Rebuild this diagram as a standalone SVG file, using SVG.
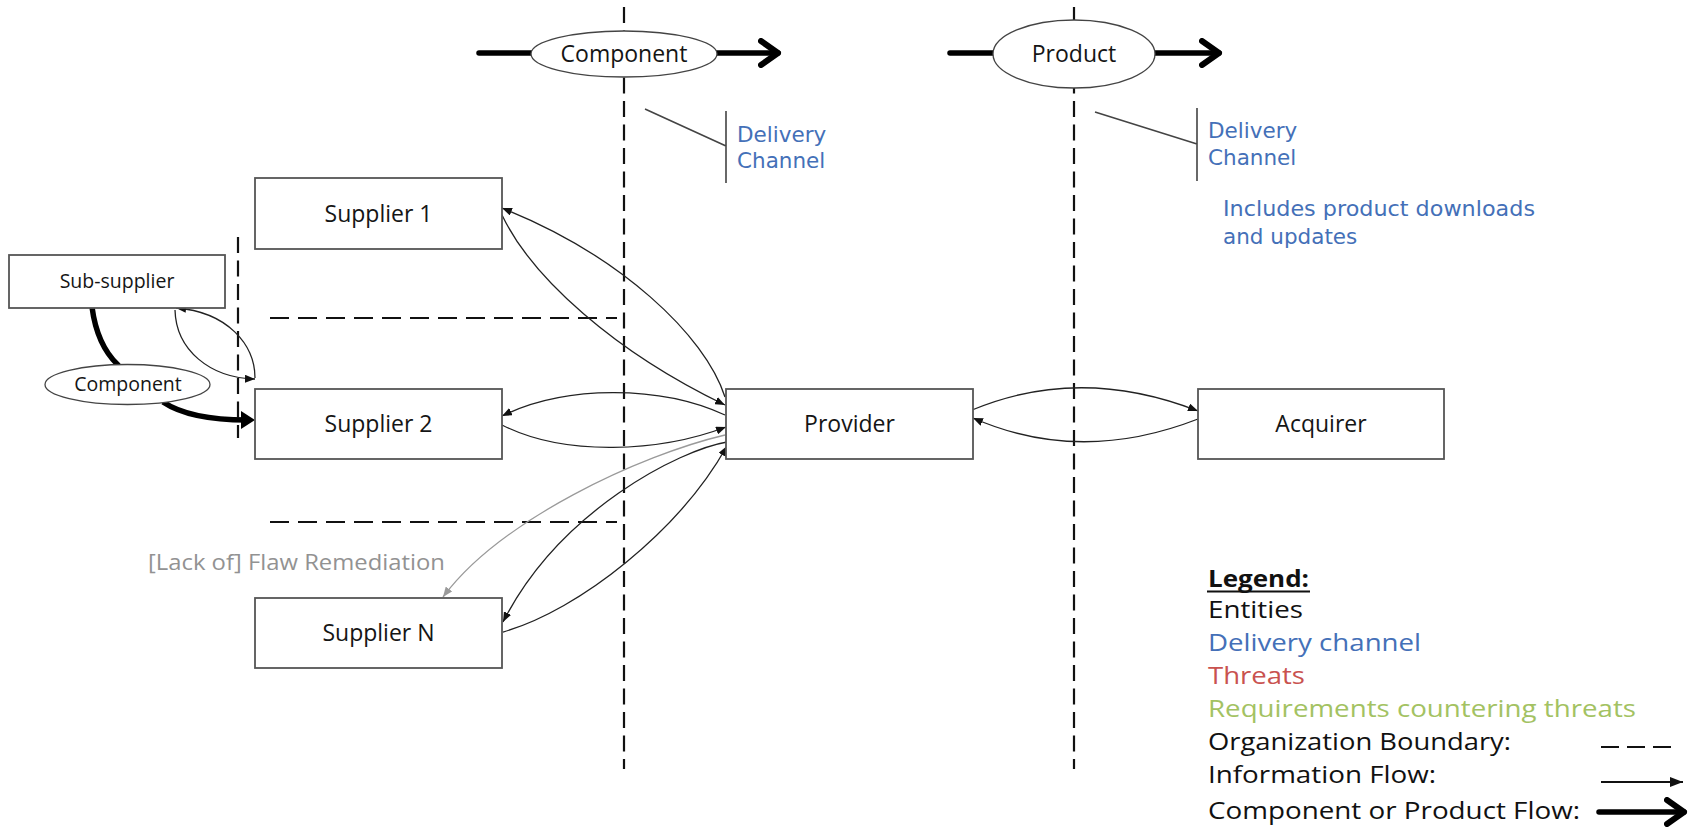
<svg xmlns="http://www.w3.org/2000/svg" width="1696" height="828" viewBox="0 0 1696 828">
<style>
  text { font-family: "Open Sans", "Liberation Sans", sans-serif; }
  .box { fill: #fff; stroke: #555; stroke-width: 1.8; }
  .ell { fill: #fff; stroke: #444; stroke-width: 1.3; }
  .lbl { font-size: 23px; fill: #151515; text-anchor: middle; }
  .lbls { font-size: 19.5px; fill: #151515; text-anchor: middle; }
  .dc { font-family: "DejaVu Sans", "Open Sans", sans-serif; font-size: 21.5px; fill: #4470b8; }
  .vdash { stroke: #111; stroke-width: 2.2; stroke-dasharray: 16 7.5; fill: none; }
  .hdash { stroke: #111; stroke-width: 2.2; stroke-dasharray: 19 9; fill: none; }
  .info { fill: none; stroke: #222; stroke-width: 1.3; }
  .gray { fill: none; stroke: #9a9a9a; stroke-width: 1.3; }
  .thick { fill: none; stroke: #000; stroke-width: 5.5; stroke-linecap: round; }
  .brk { fill: none; stroke: #444; stroke-width: 1.6; }
  .leg { font-size: 24px; fill: #111; }
</style>
<defs>
  <marker id="ah" viewBox="0 0 10 8" refX="10" refY="4" markerWidth="10" markerHeight="8" markerUnits="userSpaceOnUse" orient="auto">
    <path d="M0,0 L10,4 L0,8 z" fill="#111"/>
  </marker>
  <marker id="ahg" viewBox="0 0 10 8" refX="10" refY="4" markerWidth="10" markerHeight="8" markerUnits="userSpaceOnUse" orient="auto">
    <path d="M0,0 L10,4 L0,8 z" fill="#9a9a9a"/>
  </marker>
  <marker id="ahl" viewBox="0 0 13 10" refX="13" refY="5" markerWidth="13" markerHeight="10" markerUnits="userSpaceOnUse" orient="auto">
    <path d="M0,0 L13,5 L0,10 z" fill="#111"/>
  </marker>
  <marker id="aht" viewBox="0 0 14 18" refX="6" refY="9" markerWidth="14" markerHeight="18" markerUnits="userSpaceOnUse" orient="auto">
    <path d="M0,0 L14,9 L0,18 z" fill="#000"/>
  </marker>
  <marker id="chev" viewBox="0 0 24 30" refX="20" refY="15" markerWidth="24" markerHeight="30" markerUnits="userSpaceOnUse" orient="auto">
    <path d="M3,3 L20,15 L3,27" fill="none" stroke="#000" stroke-width="6" stroke-linecap="round" stroke-linejoin="round"/>
  </marker>
</defs>

<rect width="1696" height="828" fill="#fff"/>

<!-- boundaries and delivery channel brackets -->
<g id="boundaries">
  <line class="vdash" x1="624" y1="7" x2="624" y2="769"/>
  <line class="vdash" x1="1074" y1="7" x2="1074" y2="769"/>
  <line class="vdash" x1="238" y1="237" x2="238" y2="438"/>
  <line class="hdash" x1="270" y1="318" x2="617" y2="318"/>
  <line class="hdash" x1="270" y1="522" x2="617" y2="522"/>
</g>

<g id="delivery-channel-1">
  <path class="brk" d="M645,109 L726,146 M726,111 L726,183"/>
  <text class="dc" x="737" y="142">Delivery</text>
  <text class="dc" x="737" y="168">Channel</text>
</g>
<g id="delivery-channel-2">
  <path class="brk" d="M1095,112 L1197,144 M1197,108 L1197,181"/>
  <text class="dc" x="1208" y="138">Delivery</text>
  <text class="dc" x="1208" y="165">Channel</text>
  <text class="dc" x="1223" y="216" textLength="312" lengthAdjust="spacingAndGlyphs">Includes product downloads</text>
  <text class="dc" x="1223" y="244">and updates</text>
</g>

<!-- connectors -->
<g id="connectors">
  <line class="thick" x1="479" y1="53" x2="778" y2="53" marker-end="url(#chev)"/>
  <line class="thick" x1="950" y1="53" x2="1219" y2="53" marker-end="url(#chev)"/>
  <path class="thick" d="M92,307 Q97,345 118,365"/>
  <path class="thick" style="stroke-linecap:butt" d="M163,402 Q190,420 247,420" marker-end="url(#aht)"/>
  <path class="info" d="M255,378 C255,345 228,312 176,308" marker-end="url(#ah)"/>
  <path class="info" d="M175,310 C176,350 210,378 255,379" marker-end="url(#ah)"/>
  <path class="info" d="M725,397 C705,335 620,255 502,208" marker-end="url(#ah)"/>
  <path class="info" d="M502,215 C532,278 615,352 725,405" marker-end="url(#ah)"/>
  <path class="info" d="M725,415 C660,385 565,385 502,416" marker-end="url(#ah)"/>
  <path class="info" d="M502,425 C565,457 660,452 726,427" marker-end="url(#ah)"/>
  <path class="gray" d="M725,435 C640,455 500,520 443,597" marker-end="url(#ahg)"/>
  <path class="info" d="M727,442 C680,450 560,510 503,622" marker-end="url(#ah)"/>
  <path class="info" d="M503,632 C580,610 680,530 727,446" marker-end="url(#ah)"/>
  <path class="info" d="M972,410 Q1080,365 1198,411" marker-end="url(#ah)"/>
  <path class="info" d="M1198,419 Q1080,465 973,418" marker-end="url(#ah)"/>
</g>

<!-- nodes -->
<g id="component-top">
  <ellipse class="ell" cx="624" cy="54" rx="93" ry="23"/>
  <text class="lbl" x="624" y="62">Component</text>
</g>
<g id="product">
  <ellipse class="ell" cx="1074" cy="54" rx="81" ry="34"/>
  <text class="lbl" x="1074" y="62">Product</text>
</g>
<g id="sub-supplier">
  <rect class="box" x="9" y="255" width="216" height="53"/>
  <text class="lbls" x="117" y="288">Sub-supplier</text>
</g>
<g id="component-sub">
  <ellipse class="ell" cx="127.5" cy="384.5" rx="82.5" ry="20"/>
  <text class="lbls" x="128" y="391">Component</text>
</g>
<g id="supplier-1">
  <rect class="box" x="255" y="178" width="247" height="71"/>
  <text class="lbl" x="378.5" y="222">Supplier 1</text>
</g>
<g id="supplier-2">
  <rect class="box" x="255" y="389" width="247" height="70"/>
  <text class="lbl" x="378.5" y="432">Supplier 2</text>
</g>
<g id="supplier-n">
  <rect class="box" x="255" y="598" width="247" height="70"/>
  <text class="lbl" x="378.5" y="641">Supplier N</text>
</g>
<g id="provider">
  <rect class="box" x="726" y="389" width="247" height="70"/>
  <text class="lbl" x="849.5" y="432">Provider</text>
</g>
<g id="acquirer">
  <rect class="box" x="1198" y="389" width="246" height="70"/>
  <text class="lbl" x="1321" y="432">Acquirer</text>
</g>

<g id="flaw-label">
  <text x="148" y="570" font-size="22" fill="#929292" textLength="297" lengthAdjust="spacingAndGlyphs">[Lack of] Flaw Remediation</text>
</g>

<!-- legend -->
<g id="legend">
  <text class="leg" x="1208" y="587" font-weight="bold" textLength="101" lengthAdjust="spacingAndGlyphs">Legend:</text>
  <line x1="1207" y1="591.5" x2="1310" y2="591.5" stroke="#111" stroke-width="2"/>
  <text class="leg" x="1208" y="618" textLength="95" lengthAdjust="spacingAndGlyphs">Entities</text>
  <text class="leg" x="1208" y="651" style="fill:#4470b8" textLength="213" lengthAdjust="spacingAndGlyphs">Delivery channel</text>
  <text class="leg" x="1208" y="684" style="fill:#c9524f" textLength="97" lengthAdjust="spacingAndGlyphs">Threats</text>
  <text class="leg" x="1208" y="717" style="fill:#a3c262" textLength="428" lengthAdjust="spacingAndGlyphs">Requirements countering threats</text>
  <text class="leg" x="1208" y="750" textLength="303" lengthAdjust="spacingAndGlyphs">Organization Boundary:</text>
  <text class="leg" x="1208" y="783" textLength="228" lengthAdjust="spacingAndGlyphs">Information Flow:</text>
  <text class="leg" x="1208" y="819" textLength="372" lengthAdjust="spacingAndGlyphs">Component or Product Flow:</text>
  <line x1="1601" y1="747" x2="1673" y2="747" stroke="#111" stroke-width="2" stroke-dasharray="18 8"/>
  <line x1="1601" y1="782" x2="1683" y2="782" stroke="#111" stroke-width="1.8" marker-end="url(#ahl)"/>
  <line class="thick" x1="1599" y1="812" x2="1684" y2="812" marker-end="url(#chev)"/>
</g>
</svg>
